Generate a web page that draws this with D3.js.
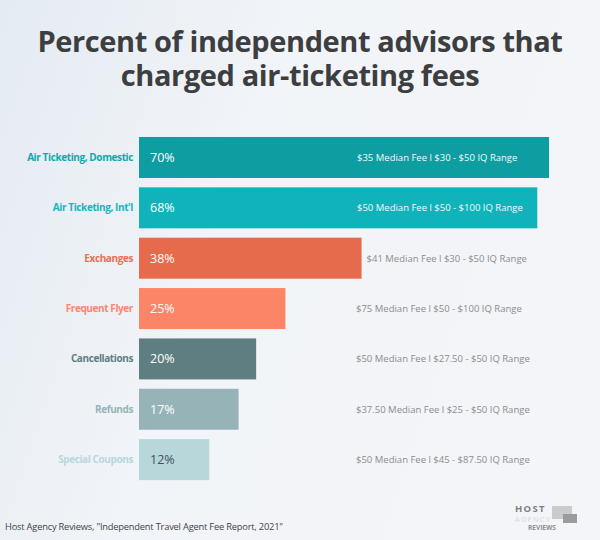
<!DOCTYPE html>
<html>
<head>
<meta charset="utf-8">
<script src="https://cdn.jsdelivr.net/npm/d3@7"></script>
<style>
  html,body{margin:0;padding:0;}
  body{width:600px;height:540px;overflow:hidden;}
</style>
</head>
<body>
<div id="chart"></div>
<script>
// chart data
const categories = ['Air Ticketing, Domestic','Air Ticketing, Int\'l','Exchanges','Frequent Flyer','Cancellations','Refunds','Special Coupons'];
const percents   = [70, 68, 38, 25, 20, 17, 12];
const feeNotes   = [
  '$35 Median Fee l $30 - $50 IQ Range',
  '$50 Median Fee l $50 - $100 IQ Range',
  '$41 Median Fee l $30 - $50 IQ Range',
  '$75 Median Fee l $50 - $100 IQ Range',
  '$50 Median Fee l $27.50 - $50 IQ Range',
  '$37.50 Median Fee l $25 - $50 IQ Range',
  '$50 Median Fee l $45 - $87.50 IQ Range'
];
const barColors   = ['#0e9da1','#10b3ba','#e66b4d','#fc8567','#5f7e82','#96b4b8','#b8d7db'];
const labelColors = ['#12a7ab','#13b6bc','#ea6e52','#fb8769','#5f7e82','#96b4b8','#b8d7db'];
const pctColors   = ['#fff','#fff','#fff','#fff','#fff','#fff','#44505a'];
const noteOnBar   = [true, true, false, false, false, false, false];

(function(){
  const W = 600, H = 540;
  const font = '"Open Sans", sans-serif';
  const svg = d3.select('#chart').append('svg').attr('width',W).attr('height',H);

  // background
  const defs = svg.append('defs');
  const bg = defs.append('linearGradient').attr('id','bg').attr('x1','0').attr('y1','0').attr('x2','1').attr('y2','0.3');
  bg.append('stop').attr('offset','0').attr('stop-color','#e4ebf2');
  bg.append('stop').attr('offset','0.45').attr('stop-color','#f1f4f8');
  bg.append('stop').attr('offset','1').attr('stop-color','#f3f5f8');
  svg.append('rect').attr('width',W).attr('height',H).attr('fill','url(#bg)');

  // title
  const title = svg.append('text').attr('x',300).attr('text-anchor','middle')
    .style('font-family',font).style('font-weight','700').style('font-size','29px').style('fill','#3d3e40')
    .style('letter-spacing','-0.4px');
  title.append('tspan').attr('x',300).attr('y',52).text('Percent of independent advisors that');
  title.append('tspan').attr('x',300).attr('y',86).text('charged air-ticketing fees');

  const x = d3.scaleLinear().domain([0,70]).range([139,549]);
  const y = d3.scaleBand().domain(categories).range([132.3,484.8]).paddingInner(0.186).paddingOuter(0.093);

  const rows = svg.append('g').selectAll('g').data(categories).join('g');

  rows.append('rect')
    .attr('x',x(0)).attr('y',d=>y(d))
    .attr('width',(d,i)=>x(percents[i])-x(0)).attr('height',y.bandwidth())
    .attr('fill',(d,i)=>barColors[i]);

  rows.append('text')
    .attr('x',133).attr('y',d=>y(d)+y.bandwidth()/2+3.5).attr('text-anchor','end')
    .style('font-family',font).style('font-weight','700').style('font-size','10px').style('letter-spacing','-0.4px')
    .style('fill',(d,i)=>labelColors[i]).text(d=>d);

  rows.append('text')
    .attr('x',150).attr('y',d=>y(d)+y.bandwidth()/2+4.5)
    .style('font-family',font).style('font-size','12.5px')
    .style('fill',(d,i)=>pctColors[i]).text((d,i)=>percents[i]+'%');

  rows.append('text')
    .attr('x',(d,i)=>noteOnBar[i] ? 357 : Math.max(356, x(percents[i])+5))
    .attr('y',d=>y(d)+y.bandwidth()/2+3.5)
    .style('font-family',font).style('font-size','9.5px')
    .style('fill',(d,i)=>noteOnBar[i] ? '#f2fbfb' : '#8a8d90').text((d,i)=>feeNotes[i]);

  // source
  svg.append('text').attr('x',5).attr('y',530)
    .style('font-family',font).style('font-size','9.3px').style('fill','#3f4448').style('letter-spacing','-0.2px')
    .text('Host Agency Reviews, "Independent Travel Agent Fee Report, 2021"');

  // logo
  const logo = svg.append('g');
  logo.append('rect').attr('x',552).attr('y',506).attr('width',20).attr('height',13).attr('fill','#c9cbcd');
  logo.append('rect').attr('x',563).attr('y',514).attr('width',14).attr('height',9).attr('fill','#9a9c9e');
  logo.append('text').attr('x',515).attr('y',511.5)
    .style('font-family',font).style('font-weight','700').style('font-size','9.5px').style('fill','#7d8083').style('letter-spacing','1.3px').text('HOST');
  logo.append('text').attr('x',515).attr('y',521.5)
    .style('font-family',font).style('font-size','7.5px').style('fill','#d6d9dc').style('letter-spacing','1.2px').text('AGENCY');
  logo.append('text').attr('x',528).attr('y',530)
    .style('font-family',font).style('font-weight','700').style('font-size','6.5px').style('fill','#8d9093').text('REVIEWS');
})();
</script>
</body>
</html>
